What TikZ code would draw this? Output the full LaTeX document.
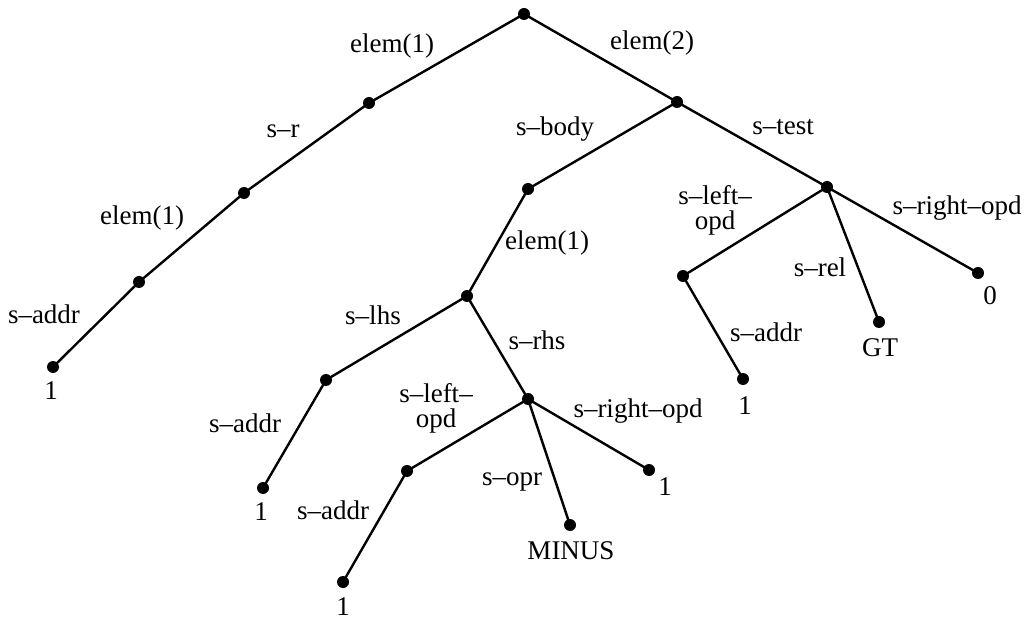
\documentclass[tikz,border=0pt]{standalone}
\usepackage{fontspec}
\setmainfont{Liberation Serif}
\begin{document}
\begin{tikzpicture}[x=1pt,y=-1pt,
  dot/.style={circle,fill=black,inner sep=0pt,minimum size=12pt},
  edge/.style={line width=2.4pt},
  lbl/.style={font=\fontsize{27}{25}\selectfont,inner sep=0pt,align=center},
  leaf/.style={font=\fontsize{27}{25}\selectfont,inner sep=0pt}]
\useasboundingbox (0,0) rectangle (1031,620);
% nodes
\node[dot] (root) at (524,14) {};
\node[dot] (A) at (369,103) {};
\node[dot] (C) at (244,193) {};
\node[dot] (D) at (139,282) {};
\node[dot] (Lf) at (53,367) {};
\node[dot] (B) at (677,102) {};
\node[dot] (E) at (528,189) {};
\node[dot] (F) at (827,187) {};
\node[dot] (G) at (467,296) {};
\node[dot] (H) at (326,380) {};
\node[dot] (J) at (263,488) {};
\node[dot] (I) at (528,399) {};
\node[dot] (K) at (407,471) {};
\node[dot] (N) at (343,582) {};
\node[dot] (L) at (570,525) {};
\node[dot] (M) at (649,470) {};
\node[dot] (O) at (683,276) {};
\node[dot] (R) at (743,379) {};
\node[dot] (P) at (879,322) {};
\node[dot] (Q) at (978,273) {};
% edges
\draw[edge] (root.center) -- (A.center) -- (C.center) -- (D.center) -- (Lf.center);
\draw[edge] (root.center) -- (B.center) -- (E.center) -- (G.center) -- (H.center) -- (J.center);
\draw[edge] (B.center) -- (F.center) -- (O.center) -- (R.center);
\draw[edge] (F.center) -- (P.center);
\draw[edge] (F.center) -- (Q.center);
\draw[edge] (G.center) -- (I.center) -- (K.center) -- (N.center);
\draw[edge] (I.center) -- (L.center);
\draw[edge] (I.center) -- (M.center);
% leaf values
\node[leaf] (vLf) at (51,391) {1};
\node[leaf] (vJ) at (261,512) {1};
\node[leaf] (vN) at (343,607) {1};
\node[leaf] (vL) at (571,551) {MINUS};
\node[leaf] (vM) at (665,487) {1};
\node[leaf] (vR) at (745,406) {1};
\node[leaf] (vP) at (880,348) {GT};
\node[leaf] (vQ) at (990,296) {0};
% edge labels
\node[lbl] (l1) at (392,46) {elem(1)};
\node[lbl] (l2) at (652,43) {elem(2)};
\node[lbl] (l3) at (283,131) {s–r};
\node[lbl] (l4) at (142,218) {elem(1)};
\node[lbl] (l5) at (44,314) {s–addr};
\node[lbl] (l6) at (555,129) {s–body};
\node[lbl] (l7) at (783,127) {s–test};
\node[lbl] (l8) at (547,243) {elem(1)};
\node[lbl] (l9) at (715,210) {s–left–\\opd};
\node[lbl] (l10) at (820,267) {s–rel};
\node[lbl] (l11) at (957,208) {s–right–opd};
\node[lbl] (l12) at (373,315) {s–lhs};
\node[lbl] (l13) at (537,340) {s–rhs};
\node[lbl] (l14) at (245,423) {s–addr};
\node[lbl] (l15) at (436,408) {s–left–\\opd};
\node[lbl] (l16) at (638,411) {s–right–opd};
\node[lbl] (l17) at (512,482) {s–opr};
\node[lbl] (l18) at (333,510) {s–addr};
\node[lbl] (l19) at (766,332) {s–addr};
\end{tikzpicture}
\end{document}
